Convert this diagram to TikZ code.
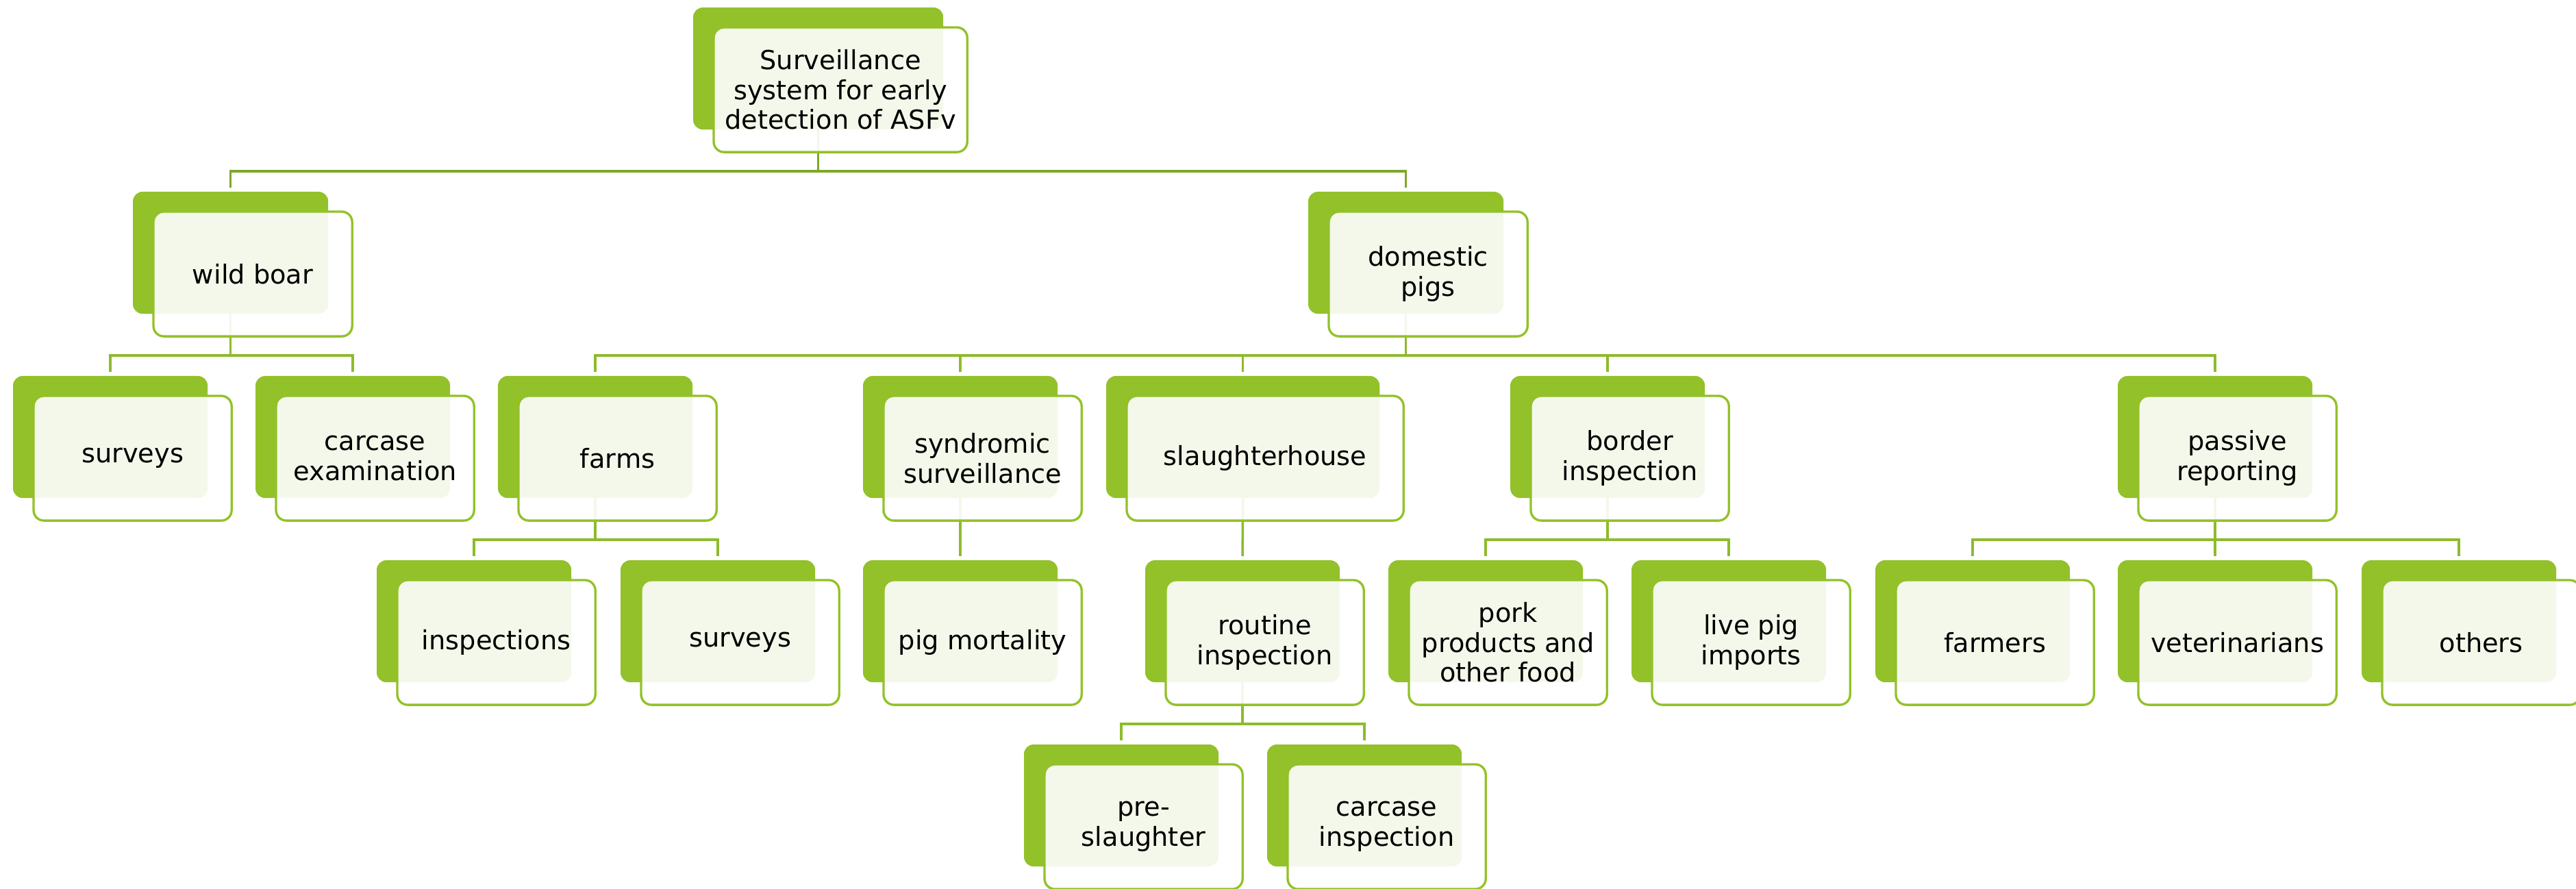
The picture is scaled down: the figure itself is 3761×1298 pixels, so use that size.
\documentclass[tikz,border=0pt]{standalone}
\usepackage{fontspec}
\setmainfont{DejaVu Sans}
\usetikzlibrary{backgrounds}
\definecolor{gback}{RGB}{147,193,41}
\definecolor{gline}{RGB}{141,187,44}
\definecolor{groot}{RGB}{126,167,42}
\newcommand\smbox[5]{%
  \node[backbox, minimum width=#4cm] (#1) at (#2,#3) {};
  \node[frontbox, minimum width=#4cm+0.05cm] (#1f) at ([shift={(30,29)}]#1.north west) {#5};
}
\begin{document}
\begin{tikzpicture}[x=0.01cm,y=-0.01cm,
  backbox/.style={fill=gback, draw=none, rounded corners=4pt, anchor=north west,
    minimum height=1.78cm, inner sep=0pt, outer sep=0pt},
  frontbox/.style={fill=white, fill opacity=0.9, text opacity=1, draw=gback,
    line width=0.95pt, rounded corners=4.3pt, anchor=north west,
    minimum height=1.82cm, inner sep=0pt, outer sep=0pt, align=center,
    font=\fontsize{10.9}{12.4}\selectfont},
  conn/.style={draw=gline, line width=1pt},
  rootconn/.style={draw=groot, line width=1pt}]
\useasboundingbox (0,0) rectangle (3761,1298);
% row 0
\smbox{root}{1012}{11}{3.65}{Surveillance\\system for early\\detection of ASFv}
% row 1
\smbox{wb}{194}{280}{2.85}{wild boar}
\smbox{dp}{1910}{280}{2.85}{domestic\\pigs}
% row 2
\smbox{sa}{19}{549}{2.84}{surveys}
\smbox{ce}{373}{549}{2.84}{carcase\\examination}
\smbox{fa}{727}{549}{2.84}{farms}
\smbox{sy}{1260}{549}{2.84}{syndromic\\surveillance}
\smbox{sl}{1615}{549}{3.99}{slaughterhouse}
\smbox{bi}{2205}{549}{2.84}{border\\inspection}
\smbox{pr}{3092}{549}{2.84}{passive\\reporting}
% row 3
\smbox{in}{550}{818}{2.84}{inspections}
\smbox{sb}{906}{818}{2.84}{surveys}
\smbox{pm}{1260}{818}{2.84}{pig mortality}
\smbox{ri}{1672}{818}{2.84}{routine\\inspection}
\smbox{pp}{2027}{818}{2.84}{pork\\products and\\other food}
\smbox{lp}{2382}{818}{2.84}{live pig\\imports}
\smbox{fr}{2738}{818}{2.84}{farmers}
\smbox{ve}{3092}{818}{2.84}{veterinarians}
\smbox{ot}{3448}{818}{2.84}{others}
% row 4
\smbox{ps}{1495}{1087}{2.84}{pre-\\slaughter}
\smbox{ci}{1850}{1087}{2.84}{carcase\\inspection}
\begin{pgfonlayer}{background}
\fill[white] (0,0) rectangle (3761,1298);
\foreach \c in {wb,dp}
  \draw[rootconn] (root.south) -- ++(0,61) -| ([yshift=0.06cm]\c.north);
\foreach \c in {sa,ce}
  \draw[conn] (wb.south) -- ++(0,61) -| ([yshift=0.06cm]\c.north);
\foreach \c in {fa,sy,sl,bi,pr}
  \draw[conn] (dp.south) -- ++(0,61) -| ([yshift=0.06cm]\c.north);
\foreach \c in {in,sb}
  \draw[conn] (fa.south) -- ++(0,61) -| ([yshift=0.06cm]\c.north);
\draw[conn] (sy.south) -- ([yshift=0.06cm]pm.north);
\draw[conn] (sl.south) -- ([yshift=0.06cm]ri.north);
\foreach \c in {pp,lp}
  \draw[conn] (bi.south) -- ++(0,61) -| ([yshift=0.06cm]\c.north);
\foreach \c in {fr,ve,ot}
  \draw[conn] (pr.south) -- ++(0,61) -| ([yshift=0.06cm]\c.north);
\foreach \c in {ps,ci}
  \draw[conn] (ri.south) -- ++(0,61) -| ([yshift=0.06cm]\c.north);
\end{pgfonlayer}
\end{tikzpicture}
\end{document}
